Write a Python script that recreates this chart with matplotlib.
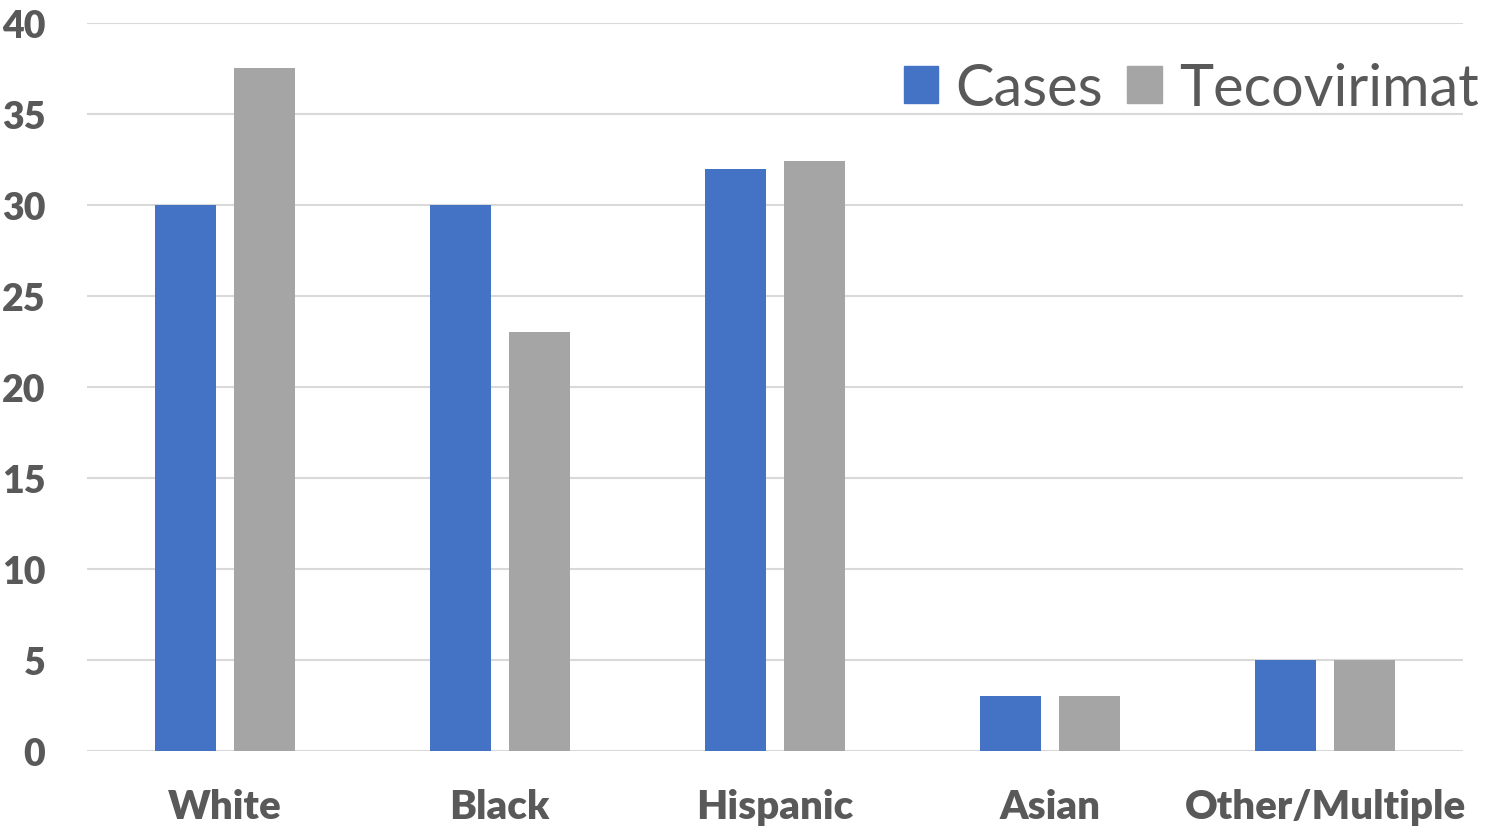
import numpy as np
import matplotlib.pyplot as plt
from matplotlib.patches import Patch

categorias = ["White", "Black", "Hispanic", "Asian", "Other/Multiple"]
cases = [30, 30, 32, 3, 5]
tecovirimat = [37.5, 23, 32.4, 3, 5]
yticks = [0, 5, 10, 15, 20, 25, 30, 35, 40]

azul = "#4472C4"
gris = "#A5A5A5"
texto = "#595959"

plt.rcParams.update({"font.family": ["Lato", "DejaVu Sans"]})

fig = plt.figure(figsize=(14.86, 8.29), dpi=100)
ax = fig.add_axes([87 / 1486, 1 - 751.7 / 829, (1463 - 87) / 1486, (751.7 - 24) / 829])

x = np.arange(len(categorias))
ancho = 0.222
sep = 0.1435
ax.bar(x - sep, cases, width=ancho, color=azul, zorder=3)
ax.bar(x + sep, tecovirimat, width=ancho, color=gris, zorder=3)

ax.set_xlim(-0.5, len(categorias) - 0.5)
ax.set_ylim(0, 40)
ax.set_yticks(yticks)
ax.set_xticks(x)
ax.set_xticklabels(categorias)
ax.grid(axis="y", color="#D9D9D9", lw=1.5, zorder=0)
for s in ax.spines.values():
    s.set_visible(False)
ax.tick_params(length=0, labelsize=29, labelcolor=texto)
ax.tick_params(axis="x", pad=27)
ax.tick_params(axis="y", pad=30, labelsize=27)
for lab in ax.get_xticklabels() + ax.get_yticklabels():
    lab.set_fontweight("heavy")

handles = [Patch(color=azul), Patch(color=gris)]
leg = fig.legend(
    handles, ["Cases", "Tecovirimat"],
    loc="upper right", bbox_to_anchor=(1479 / 1486, 1 - 63 / 829),
    ncol=2, frameon=False, fontsize=41.5, labelcolor=texto,
    handlelength=0.6, handleheight=0.6, handletextpad=0.3,
    columnspacing=0.42, borderpad=0, borderaxespad=0,
)

fig.savefig("out.png", dpi=100)
